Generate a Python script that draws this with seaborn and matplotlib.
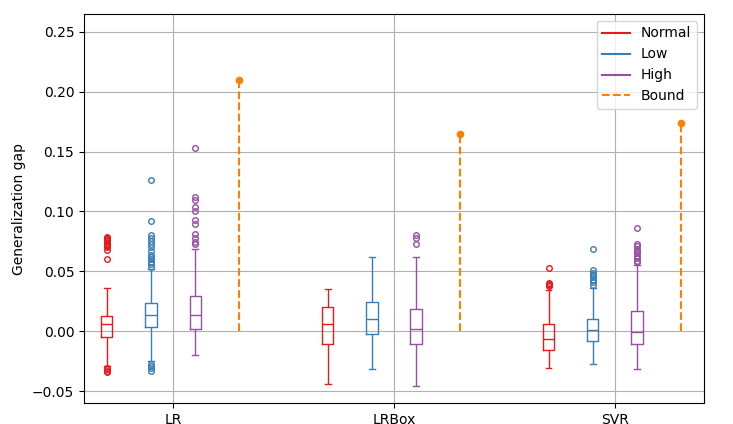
#Generalization gap per model: box plots for Normal / Low / High runs plus the theoretical bound

import numpy as np
import pandas as pd
import matplotlib
matplotlib.use("Agg")
import matplotlib.pyplot as plt
import seaborn as sns
from matplotlib.lines import Line2D

models = ["LR", "LRBox", "SVR"]
kinds = ["Normal", "Low", "High"]

# box statistics, order: LR(N,L,H), LRBox(N,L,H), SVR(N,L,H)
q1_vals = [-0.0047, 0.0036, 0.0020, -0.0109, -0.0020, -0.0103, -0.0153, -0.0078, -0.0103]
med_vals = [0.0059, 0.0134, 0.0134, 0.0059, 0.0098, 0.0020, -0.0069, 0.0008, -0.0008]
q3_vals = [0.0125, 0.0232, 0.0298, 0.0198, 0.0240, 0.0187, 0.0056, 0.0106, 0.0165]
whislo_vals = [-0.0290, -0.0250, -0.0200, -0.0438, -0.0320, -0.0454, -0.0304, -0.0270, -0.0312]
whishi_vals = [0.0360, 0.0520, 0.0690, 0.0349, 0.0616, 0.0616, 0.0343, 0.0360, 0.0550]
flier_vals = [
    [-0.031, -0.032, -0.033, -0.034, 0.060, 0.068, 0.070, 0.071, 0.072, 0.073,
     0.074, 0.075, 0.076, 0.077, 0.078, 0.079],
    [-0.027, -0.029, -0.031, -0.033, 0.054, 0.056, 0.058, 0.060, 0.062, 0.064,
     0.067, 0.070, 0.073, 0.075, 0.078, 0.080, 0.092, 0.126],
    [0.0725, 0.0745, 0.0775, 0.081, 0.0895, 0.093, 0.1005, 0.104, 0.110, 0.112, 0.153],
    [],
    [],
    [0.0727, 0.0775, 0.080],
    [0.0375, 0.0385, 0.0395, 0.0405, 0.0525],
    [0.039, 0.041, 0.043, 0.045, 0.047, 0.049, 0.0515, 0.0683],
    [0.0575, 0.059, 0.061, 0.063, 0.065, 0.067, 0.069, 0.071, 0.0727, 0.0859],
]
bound_vals = [0.210, 0.165, 0.174]

# turn each box summary into a sample whose quartiles/whiskers match the read values
rows = []
i = 0
for m in models:
    for k in kinds:
        vals = [whislo_vals[i], whishi_vals[i]] + flier_vals[i]
        vals += [q1_vals[i]] * 40 + [med_vals[i]] * 40 + [q3_vals[i]] * 40
        for v in vals:
            rows.append({"model": m, "kind": k, "gap": v})
        i += 1
df = pd.DataFrame(rows)
bound_df = pd.DataFrame({"model": models, "kind": "Bound", "gap": bound_vals})

hue_order = ["Normal", "Low", "High", "Bound"]
set1 = sns.color_palette("Set1")
pal = {"Normal": set1[0], "Low": set1[1], "High": set1[3], "Bound": set1[4]}

fig, ax = plt.subplots(figsize=(7.33, 4.24), dpi=100)
fig.subplots_adjust(left=0.1146, right=0.9604, top=0.967, bottom=0.0495)

sns.boxplot(data=df, x="model", y="gap", hue="kind", hue_order=hue_order, order=models,
            palette=pal, fill=False, width=0.8, gap=0.745, linewidth=1,
            fliersize=4, flierprops={"marker": "o", "markerfacecolor": "none"},
            legend=False, ax=ax)

n_before = len(ax.collections)
sns.stripplot(data=bound_df, x="model", y="gap", hue="kind", hue_order=hue_order, order=models,
              palette=pal, dodge=True, jitter=False, size=5.5, legend=False, zorder=5, ax=ax)
pts = np.vstack([c.get_offsets() for c in ax.collections[n_before:] if len(c.get_offsets())])
ax.vlines(pts[:, 0], 0, pts[:, 1], colors=pal["Bound"], linestyles="--", linewidth=1.5, zorder=4)

ax.set_xlim(-0.403, 2.403)
ax.set_ylim(-0.06, 0.265)
ax.set_xlabel("")
ax.set_ylabel("Generalization gap")
ax.grid(True)
ax.set_axisbelow(True)

handles = [Line2D([], [], color=pal["Normal"], lw=1.5),
           Line2D([], [], color=pal["Low"], lw=1.5),
           Line2D([], [], color=pal["High"], lw=1.5),
           Line2D([], [], color=pal["Bound"], lw=1.5, ls="--")]
ax.legend(handles, hue_order, loc="upper right")

plt.savefig("out.png")
